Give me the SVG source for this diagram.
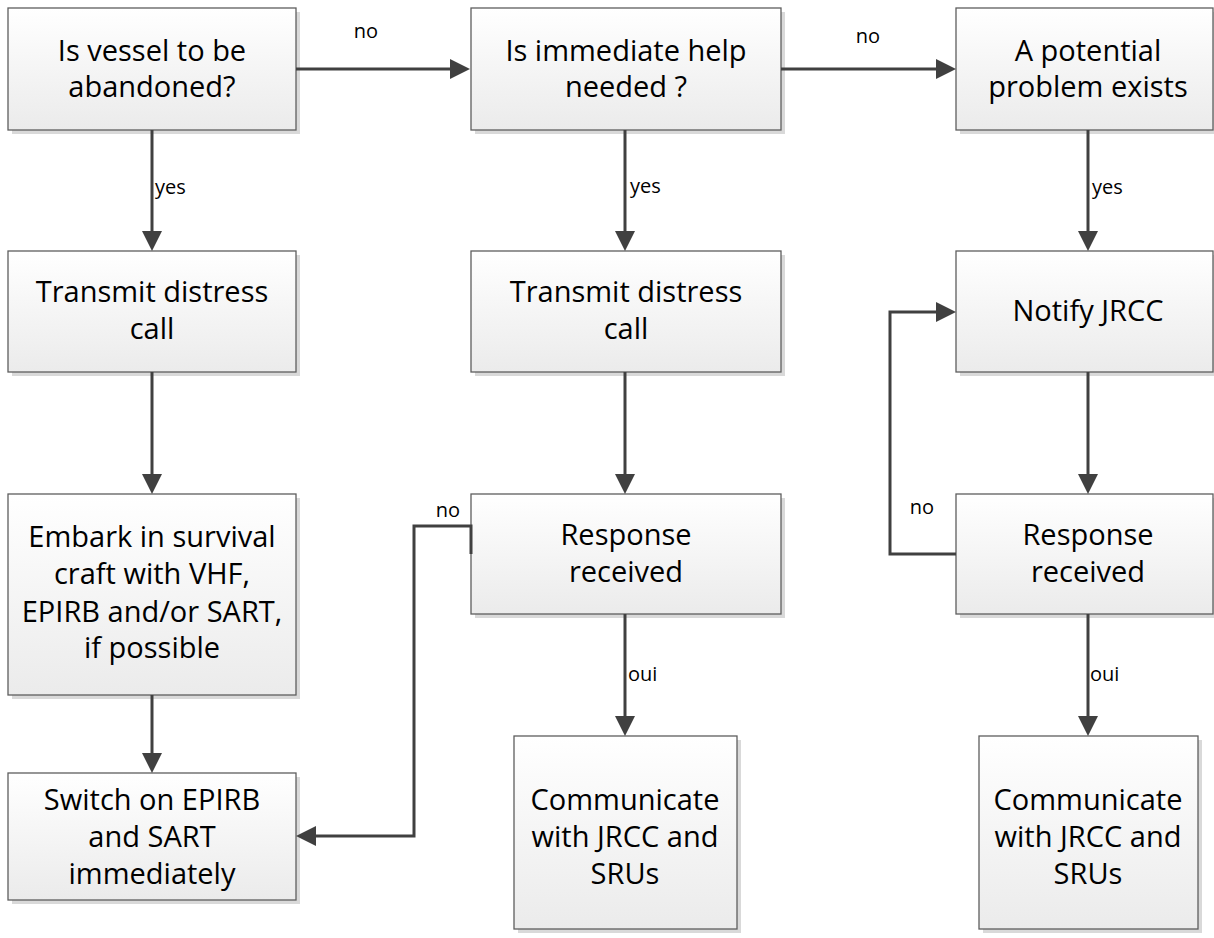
<svg xmlns="http://www.w3.org/2000/svg" width="1214" height="938" viewBox="0 0 1214 938">
<defs>
<linearGradient id="g" x1="0" y1="0" x2="0" y2="1">
<stop offset="0" stop-color="#ffffff"/>
<stop offset="1" stop-color="#ebebeb"/>
</linearGradient>
<marker id="ah" viewBox="0 0 20 20" markerWidth="20" markerHeight="20" refX="10" refY="10" orient="auto" markerUnits="userSpaceOnUse">
<path d="M0,0 L20,10 L0,20 z" fill="#404040"/>
</marker>
<style>
.sh{fill:#d9d9d9;}
.bx{fill:url(#g);stroke:#5e5e5e;stroke-width:1.3;}
.t{font-family:"Open Sans","Liberation Sans",sans-serif;font-size:29px;fill:#000;text-anchor:middle;}
.l{font-family:"Open Sans","Liberation Sans",sans-serif;font-size:20px;fill:#000;}
.c{fill:none;stroke:#404040;stroke-width:3;}
.a{marker-end:url(#ah);}
</style>
</defs>
<rect width="1214" height="938" fill="#fff"/>

<g id="n1"><rect class="sh" x="12" y="12" width="288" height="122"/><rect class="bx" x="8" y="8" width="288" height="122"/>
<text class="t" x="152" y="61">Is vessel to be</text><text class="t" x="152" y="97">abandoned?</text></g>
<g id="n2"><rect class="sh" x="475" y="12" width="310" height="122"/><rect class="bx" x="471" y="8" width="310" height="122"/>
<text class="t" x="626" y="61">Is immediate help</text><text class="t" x="626" y="97">needed ?</text></g>
<g id="n3"><rect class="sh" x="960" y="12" width="257" height="122"/><rect class="bx" x="956" y="8" width="257" height="122"/>
<text class="t" x="1088" y="61">A potential</text><text class="t" x="1088" y="97">problem exists</text></g>

<g id="n4"><rect class="sh" x="12" y="255" width="288" height="121"/><rect class="bx" x="8" y="251" width="288" height="121"/>
<text class="t" x="152" y="302">Transmit distress</text><text class="t" x="152" y="339">call</text></g>
<g id="n5"><rect class="sh" x="475" y="255" width="310" height="121"/><rect class="bx" x="471" y="251" width="310" height="121"/>
<text class="t" x="626" y="302">Transmit distress</text><text class="t" x="626" y="339">call</text></g>
<g id="n6"><rect class="sh" x="960" y="255" width="257" height="121"/><rect class="bx" x="956" y="251" width="257" height="121"/>
<text class="t" x="1088" y="321">Notify JRCC</text></g>

<g id="n7"><rect class="sh" x="12" y="498" width="288" height="201"/><rect class="bx" x="8" y="494" width="288" height="201"/>
<text class="t" x="152" y="547">Embark in survival</text><text class="t" x="152" y="584">craft with VHF,</text><text class="t" x="152" y="622">EPIRB and/or SART,</text><text class="t" x="152" y="658">if possible</text></g>
<g id="n8"><rect class="sh" x="475" y="498" width="310" height="120"/><rect class="bx" x="471" y="494" width="310" height="120"/>
<text class="t" x="626" y="545">Response</text><text class="t" x="626" y="582">received</text></g>
<g id="n9"><rect class="sh" x="960" y="498" width="257" height="120"/><rect class="bx" x="956" y="494" width="257" height="120"/>
<text class="t" x="1088" y="545">Response</text><text class="t" x="1088" y="582">received</text></g>

<g id="n10"><rect class="sh" x="12" y="777" width="288" height="127"/><rect class="bx" x="8" y="773" width="288" height="127"/>
<text class="t" x="152" y="810">Switch on EPIRB</text><text class="t" x="152" y="847">and SART</text><text class="t" x="152" y="884">immediately</text></g>
<g id="n11"><rect class="sh" x="518" y="740" width="223" height="193"/><rect class="bx" x="514" y="736" width="223" height="193"/>
<text class="t" x="625" y="810">Communicate</text><text class="t" x="625" y="847">with JRCC and</text><text class="t" x="625" y="884">SRUs</text></g>
<g id="n12"><rect class="sh" x="983" y="740" width="219" height="193"/><rect class="bx" x="979" y="736" width="219" height="193"/>
<text class="t" x="1088" y="810">Communicate</text><text class="t" x="1088" y="847">with JRCC and</text><text class="t" x="1088" y="884">SRUs</text></g>

<g id="connectors">
<path class="c a" d="M296,69 H460"/>
<path class="c a" d="M781,69 H946"/>
<path class="c a" d="M152,130 V241"/>
<path class="c a" d="M625,130 V241"/>
<path class="c a" d="M1088,130 V241"/>
<path class="c a" d="M152,372 V484"/>
<path class="c a" d="M152,695 V763"/>
<path class="c a" d="M625,372 V484"/>
<path class="c a" d="M1088,372 V484"/>
<path class="c a" d="M625,614 V726"/>
<path class="c a" d="M1088,614 V726"/>
<path class="c a" d="M471,554 V526 H414 V836 H306"/>
<path class="c a" d="M956,554 H890 V312 H946"/>
<text class="l" x="366" y="38" text-anchor="middle">no</text>
<text class="l" x="868" y="43" text-anchor="middle">no</text>
<text class="l" x="155" y="194">yes</text>
<text class="l" x="630" y="193">yes</text>
<text class="l" x="1092" y="194">yes</text>
<text class="l" x="448" y="517" text-anchor="middle">no</text>
<text class="l" x="922" y="514" text-anchor="middle">no</text>
<text class="l" x="628" y="681">oui</text>
<text class="l" x="1090" y="681">oui</text>
</g>
</svg>
